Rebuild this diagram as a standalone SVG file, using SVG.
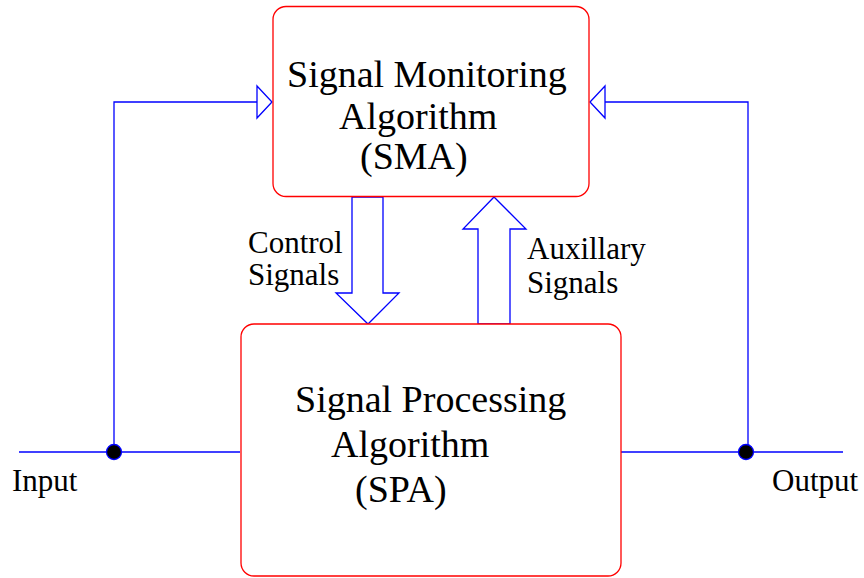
<svg xmlns="http://www.w3.org/2000/svg" width="864" height="578" viewBox="0 0 864 578">
<style>
.box{fill:#fff;stroke:#ff0000;stroke-width:1.3}
.ln{fill:none;stroke:#0000ff;stroke-width:1.3}
.ar{fill:#fff;stroke:#0000ff;stroke-width:1.3}
.dot{fill:#000;stroke:#0000ff;stroke-width:1.3}
.big{font-family:"Liberation Serif","Times New Roman",serif;font-size:38px;fill:#000}
.lab{font-family:"Liberation Serif","Times New Roman",serif;font-size:31px;fill:#000}
</style>
<rect width="864" height="578" fill="#fff"/>
<g id="connectors">
  <polyline class="ln" points="19,452 240,452"/>
  <polyline class="ln" points="621,452 843,452"/>
  <polyline class="ln" points="114,452 114,102 257,102"/>
  <polyline class="ln" points="748,452 748,102 605,102"/>
  <polygon class="ar" points="257,86 272,102 257,118"/>
  <polygon class="ar" points="605,86 590,102 605,118"/>
  <polygon class="ar" points="352,197 383,197 383,293 399,293 368,324 336,293 352,293"/>
  <polygon class="ar" points="478,324 510,324 510,229 526,229 494,197 463,229 478,229"/>
  <circle class="dot" cx="114" cy="452" r="7.5"/>
  <circle class="dot" cx="746" cy="452" r="7.5"/>
</g>
<g id="sma">
  <rect class="box" x="273" y="6.5" width="316" height="190" rx="13"/>
  <text class="big" x="287" y="87">Signal Monitoring</text>
  <text class="big" x="339" y="129">Algorithm</text>
  <text class="big" x="360" y="169">(SMA)</text>
</g>
<g id="spa">
  <rect class="box" x="241" y="324" width="380" height="252" rx="13"/>
  <text class="big" x="295" y="412">Signal Processing</text>
  <text class="big" x="331" y="457">Algorithm</text>
  <text class="big" x="355" y="502">(SPA)</text>
</g>
<g id="labels">
  <text class="lab" x="248" y="253">Control</text>
  <text class="lab" x="248" y="285">Signals</text>
  <text class="lab" x="527" y="259">Auxillary</text>
  <text class="lab" x="527" y="293">Signals</text>
  <text class="lab" x="12" y="491">Input</text>
  <text class="lab" x="772" y="491">Output</text>
</g>
</svg>
